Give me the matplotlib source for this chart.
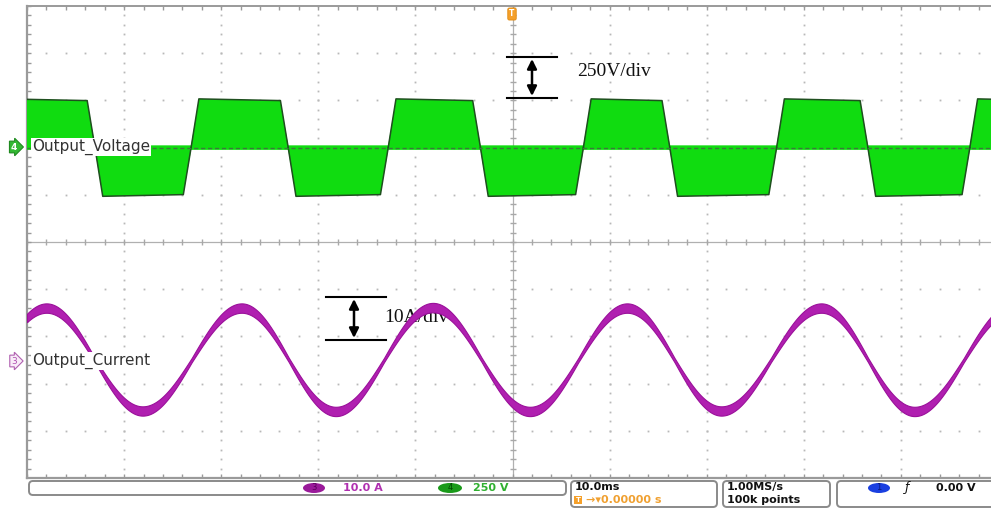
import numpy as np
import matplotlib.pyplot as plt
from matplotlib.patches import FancyBboxPatch, Ellipse

# scope settings
t_div = 10.0      # ms / div
v_div = 250.0     # V / div  (channel 4)
i_div = 10.0      # A / div  (channel 3)
v_offset = 2.0    # channel 4 zero, divisions above centre
i_offset = -2.5   # channel 3 zero

# Output_Voltage: zero crossings (ms) and plateau levels (V)
v_rise = [-53.0, -33.1, -12.8, 7.3, 27.2, 47.1]
v_fall = [-43.0, -23.1, -3.3, 16.2, 36.6, 56.5]
v_level_start = 258.0
v_level_end = 249.0
v_ramp = 0.8          # ms from zero to full level
v_zero_band = 12.0    # V, switching noise around zero

# Output_Current: peaks / troughs (ms, A)
i_ext_t = [-58.0, -48.0, -38.1, -27.9, -18.2, -8.2, 1.8, 11.8, 21.5, 31.8, 41.4, 51.6]
i_ext_v = [-10.9, 11.0, -10.8, 11.0, -10.9, 11.1, -10.9, 11.0, -10.8, 11.0, -10.9, 11.0]
i_ripple_peak = 1.0
i_ripple_zero = 0.45

W, H = 991, 508
fig = plt.figure(figsize=(W / 100, H / 100), dpi=100)
fig.patch.set_facecolor('white')

# graticule: 10 x 10 divisions, right edge runs off the picture
ax = fig.add_axes([27 / W, 1 - 478 / H, 971 / W, 472 / H])
ax.set_xlim(-5 * t_div, 5 * t_div)
ax.set_ylim(-5, 5)
ax.axis('off')

def px_t(x):
    return (x - 512.5) / 9.71

def px_d(y):
    return (242 - y) / 47.2

dot = '#b8b8b8'
for k in range(-4, 5):
    if k == 0:
        continue
    xs = np.arange(-50, 50.01, 2.0)
    ax.plot(xs, np.full_like(xs, k), ls='none', marker='s', ms=1.3, color=dot, mec='none', zorder=0)
    ys = np.arange(-5, 5.01, 0.2)
    ax.plot(np.full_like(ys, k * t_div), ys, ls='none', marker='s', ms=1.3, color=dot, mec='none', zorder=0)

line_c = '#9a9a9a'
ax.axhline(0, color='#b0b0b0', lw=0.9, zorder=0)
ax.axvline(0, color='#b0b0b0', lw=0.9, zorder=0)
xs = np.arange(-50, 50.01, 2.0)
ys = np.arange(-5, 5.01, 0.2)
ax.plot(xs, np.zeros_like(xs), ls='none', marker='|', ms=5, color='#a8a8a8', zorder=0)
ax.plot(np.zeros_like(ys), ys, ls='none', marker='_', ms=5, color='#a8a8a8', zorder=0)
ax.plot(xs, np.full_like(xs, 5), ls='none', marker='|', ms=6, color=line_c, zorder=0)
ax.plot(xs, np.full_like(xs, -5), ls='none', marker='|', ms=6, color=line_c, zorder=0)
ax.plot(np.full_like(ys, -50), ys, ls='none', marker='_', ms=6, color=line_c, zorder=0)
ax.plot([-50, 50], [5, 5], color=line_c, lw=1.4, clip_on=False)
ax.plot([-50, 50], [-5, -5], color=line_c, lw=1.6, clip_on=False)
ax.plot([-50, -50], [-5, 5], color=line_c, lw=1.6, clip_on=False)

# voltage envelope (unipolar PWM: band from zero to the trapezoid level)
up_t, up_v, lo_t, lo_v = [], [], [], []
for r in v_rise:
    f = min(x for x in v_fall if x > r)
    up_t += [r, r + v_ramp, f - v_ramp, f]
    up_v += [v_zero_band, v_level_start, v_level_end, v_zero_band]
for f in v_fall:
    later = [x for x in v_rise if x > f]
    r = later[0] if later else f + 10.0
    lo_t += [f, f + v_ramp, r - v_ramp, r]
    lo_v += [-v_zero_band, -v_level_start, -v_level_end, -v_zero_band]
lo_t = [v_rise[0]] + lo_t
lo_v = [-v_zero_band] + lo_v
t_all = np.array(sorted(set(up_t + lo_t)))
v_up = np.interp(t_all, up_t, up_v) / v_div + v_offset
v_lo = np.interp(t_all, lo_t, lo_v) / v_div + v_offset
ax.fill_between(t_all, v_lo, v_up, color='#10dc10', lw=0, zorder=2)
for r in v_rise:
    f = min(x for x in v_fall if x > r)
    ax.plot([r, r + v_ramp, f - v_ramp, f],
            np.array([0, v_level_start, v_level_end, 0]) / v_div + v_offset,
            color='#1f4f1f', lw=1.1, zorder=2.5)
for f in v_fall:
    later = [x for x in v_rise if x > f]
    r = later[0] if later else f + 10.0
    ax.plot([f, f + v_ramp, r - v_ramp, r],
            np.array([0, -v_level_start, -v_level_end, 0]) / v_div + v_offset,
            color='#1f4f1f', lw=1.1, zorder=2.5)
ax.plot([-50, 50], [v_offset, v_offset], color='#3a7a3a', lw=1.0, ls=(0, (3, 2)), zorder=2.5)

# current trace: half-cosine between the read peaks/troughs
tt = np.linspace(-50, 50, 3001)
idx = np.clip(np.searchsorted(i_ext_t, tt) - 1, 0, len(i_ext_t) - 2)
ta = np.array(i_ext_t)[idx]
tb = np.array(i_ext_t)[idx + 1]
va = np.array(i_ext_v)[idx]
vb = np.array(i_ext_v)[idx + 1]
ic = (va + vb) / 2 + (va - vb) / 2 * np.cos(np.pi * (tt - ta) / (tb - ta))
hw = i_ripple_zero + (i_ripple_peak - i_ripple_zero) * np.abs(ic) / max(np.abs(i_ext_v))
ax.fill_between(tt, (ic - hw) / i_div + i_offset, (ic + hw) / i_div + i_offset,
                color='#b01fb0', lw=0.8, ec='#9a109a', zorder=3)

# channel labels
lab = dict(fontsize=11, color='#333333', va='center', ha='left', zorder=4,
           bbox=dict(fc='white', ec='none', pad=0.6))
ax.text(px_t(32), px_d(147), 'Output_Voltage', **lab)
ax.text(px_t(32), px_d(361), 'Output_Current', **lab)

# scale annotations
serif = ['Liberation Serif', 'DejaVu Serif']
for y in (57, 98):
    ax.plot([px_t(507), px_t(557)], [px_d(y), px_d(y)], color='black', lw=1.5, zorder=1.5)
ax.annotate('', xy=(px_t(532), px_d(59)), xytext=(px_t(532), px_d(96)),
            arrowprops=dict(arrowstyle='<|-|>', color='black', lw=1.8, mutation_scale=14,
                            shrinkA=0, shrinkB=0), zorder=1.5)
ax.text(px_t(577), px_d(72), '250V/div', family=serif, fontsize=14, va='center', ha='left',
        color='#111111', zorder=1.5)
for y in (297, 340):
    ax.plot([px_t(326), px_t(386)], [px_d(y), px_d(y)], color='black', lw=1.5, zorder=1.5)
ax.annotate('', xy=(px_t(354), px_d(299)), xytext=(px_t(354), px_d(338)),
            arrowprops=dict(arrowstyle='<|-|>', color='black', lw=1.8, mutation_scale=14,
                            shrinkA=0, shrinkB=0), zorder=1.5)
ax.text(px_t(384), px_d(318), '10A/div', family=serif, fontsize=14, va='center', ha='left',
        color='#111111', zorder=1.5)

# overlay in pixel coordinates for the scope's own furniture
ov = fig.add_axes([0, 0, 1, 1], zorder=5)
ov.set_xlim(0, W)
ov.set_ylim(H, 0)
ov.axis('off')
ov.patch.set_alpha(0)

ov.text(14, 147, '4', fontsize=6.5, color='white', ha='center', va='center', weight='bold',
        bbox=dict(boxstyle='rarrow,pad=0.15', fc='#33b833', ec='#1f8a1f', lw=0.8))
ov.text(14, 361, '3', fontsize=6.5, color='#b050b0', ha='center', va='center',
        bbox=dict(boxstyle='rarrow,pad=0.15', fc='#f8ecf8', ec='#b060b0', lw=0.8))
ov.text(512, 14, 'T', fontsize=5.5, color='white', ha='center', va='center', weight='bold',
        bbox=dict(boxstyle='round,pad=0.2', fc='#f5a02a', ec='#e08a10', lw=0.6))

box_kw = dict(boxstyle='round,pad=0,rounding_size=4', fc='white', ec='#8a8a8a', lw=1.4)
ov.add_patch(FancyBboxPatch((29, 481), 537, 14, **box_kw))
ov.add_patch(FancyBboxPatch((571, 481), 146, 26, **box_kw))
ov.add_patch(FancyBboxPatch((723, 481), 107, 26, **box_kw))
ov.add_patch(FancyBboxPatch((837, 481), 160, 26, **box_kw))

bar = dict(fontsize=8, va='center', ha='left', weight='bold')
ov.add_patch(Ellipse((314, 488), 22, 10, fc='#9a1a9a', ec='none'))
ov.text(314, 488, '3', fontsize=6, color='#5a005a', ha='center', va='center')
ov.text(343, 488, '10.0 A', color='#b030b0', **bar)
ov.add_patch(Ellipse((450, 488), 24, 10, fc='#1a9a1a', ec='none'))
ov.text(450, 488, '4', fontsize=6, color='#004a00', ha='center', va='center')
ov.text(473, 488, '250 V', color='#30b030', **bar)
ov.text(575, 487, '10.0ms', color='#111111', **bar)
ov.text(578, 500, 'T', fontsize=5, color='white', ha='center', va='center', weight='bold',
        bbox=dict(boxstyle='square,pad=0.15', fc='#f5a02a', ec='none'))
ov.text(586, 500, '\u2192\u25be0.00000 s', color='#f0a030', **bar)
ov.text(727, 487, '1.00MS/s', color='#111111', **bar)
ov.text(727, 500, '100k points', color='#111111', **bar)
ov.add_patch(Ellipse((879, 488), 22, 10, fc='#1a3fe0', ec='none'))
ov.text(879, 488, '1', fontsize=6, color='#0a1a80', ha='center', va='center')
ov.text(907, 488, '\u0192', fontsize=9, color='#111111', ha='center', va='center', style='italic')
ov.text(936, 488, '0.00 V', color='#111111', **bar)

fig.savefig('out.png', dpi=100)
